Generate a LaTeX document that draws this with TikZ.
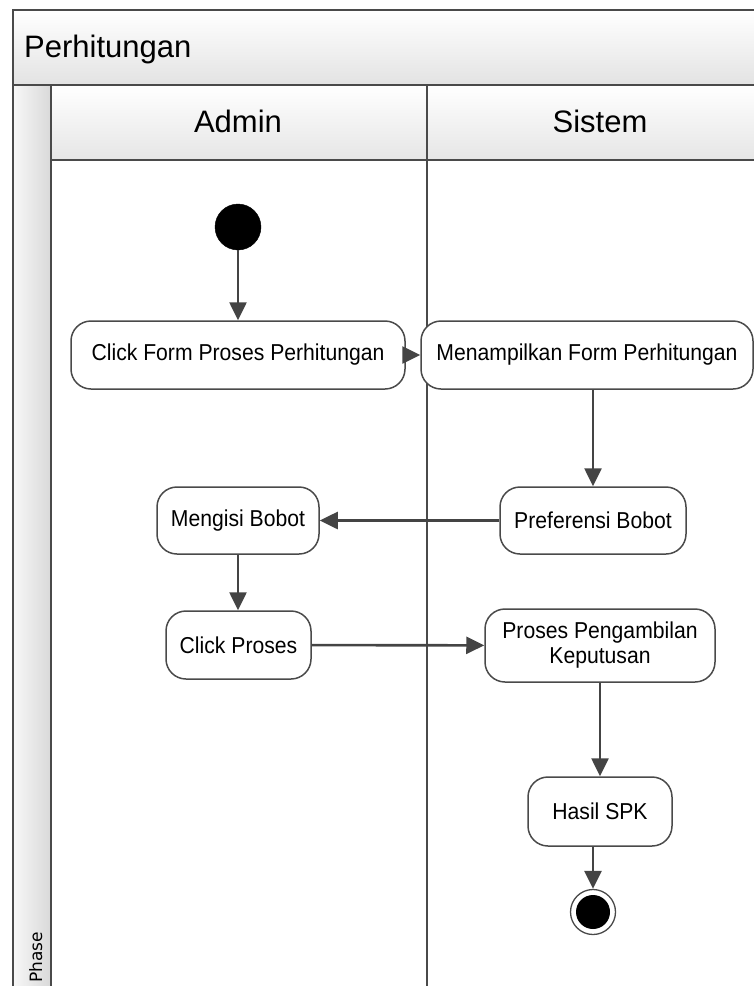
\documentclass[tikz,border=0pt]{standalone}
\usepackage{fontspec}
\setmainfont{Liberation Sans}
\newfontfamily\nodefont[FakeStretch=0.92]{Liberation Sans}
\newfontfamily\phasefont{DejaVu Sans}
\usetikzlibrary{arrows.meta,calc}
\definecolor{linec}{HTML}{4A4A4A}
\definecolor{arrowc}{HTML}{444444}
\begin{document}
\begin{tikzpicture}[x=1pt,y=-1pt,
  act/.style={draw=linec, line width=1.5pt, rounded corners=20pt, fill=white,
    align=center, inner sep=0pt, font=\nodefont\fontsize{23}{25}\selectfont},
  flow/.style={draw=arrowc, line width=2.6pt, -{Triangle[length=18pt,width=17pt]}},
  lane/.style={draw=linec, line width=1.5pt},
  headtxt/.style={font=\fontsize{31}{34}\selectfont, inner sep=0pt}]
\useasboundingbox (0,0) rectangle (754,986);
\begin{scope}
  \clip (0,0) rectangle (754,986);
  \shade[top color=white, bottom color=black!11] (13,10) rectangle (800,85);
  \shade[left color=black!3, right color=black!15] (13,85) rectangle (51,1000);
  \shade[top color=white, bottom color=black!10] (51,85) rectangle (800,160);
  \draw[lane] (13,1000) -- (13,10) -- (800,10);
  \draw[lane] (13,85) -- (800,85);
  \draw[lane] (51,85) -- (51,1000);
  \draw[lane] (51,160) -- (800,160);
  \draw[lane] (427,85) -- (427,1000);
\end{scope}
\node[font=\phasefont\fontsize{17}{18}\selectfont, rotate=90, anchor=base east, inner sep=0pt] (phase) at (42,932) {Phase};
\node[headtxt, anchor=base west] (title) at (24,57) {Perhitungan};
\node[headtxt, anchor=base] (admin) at (238,132) {Admin};
\node[headtxt, anchor=base] (sistem) at (600,132) {Sistem};

\node[circle, fill=black, draw=black, minimum size=46pt, inner sep=0pt] (start) at (238,227) {};
\node[act, minimum width=334pt, minimum height=68pt] (clickform) at (238,355) {Click Form Proses Perhitungan};
\node[act, minimum width=332pt, minimum height=68pt] (menamp) at (587,355) {Menampilkan Form Perhitungan};
\node[act, minimum width=186pt, minimum height=67pt] (pref) at (593,520.5) {Preferensi Bobot};
\node[act, minimum width=162pt, minimum height=67pt] (mengisi) at (238,520.5) {Mengisi Bobot};
\node[act, minimum width=145pt, minimum height=68pt] (clickproses) at (238.5,645) {Click Proses};
\node[act, minimum width=230pt, minimum height=73pt] (proses) at (600,645.5) {Proses Pengambilan\\Keputusan};
\node[act, minimum width=144pt, minimum height=69pt] (hasil) at (600,811.5) {Hasil SPK};
\node[circle, draw=linec, line width=1.3pt, fill=white, minimum size=45pt, inner sep=0pt,
  path picture={\fill[black] (path picture bounding box.center) circle[radius=17pt];}] (end) at (593,912) {};

\draw[flow] (start) -- (clickform);
\draw[flow] (clickform) -- (menamp);
\draw[flow] (pref.north |- menamp.south) -- (pref.north);
\draw[flow] (pref) -- (mengisi);
\draw[flow] (mengisi) -- (mengisi |- clickproses.north);
\draw[flow] (clickproses) -- (proses);
\draw[flow] (proses) -- (hasil);
\draw[flow] (end.north |- hasil.south) -- (end.north);
\end{tikzpicture}
\end{document}
